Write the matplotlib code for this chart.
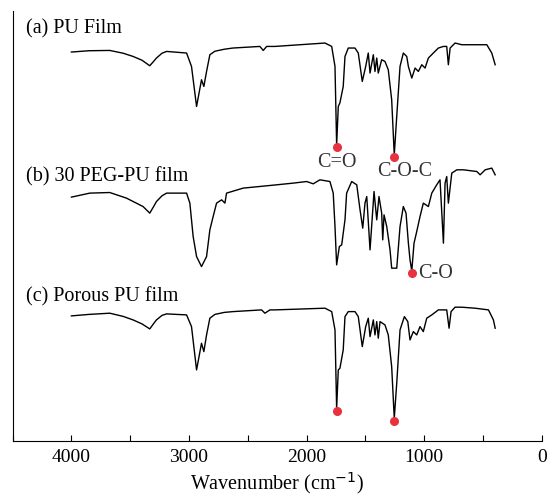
import numpy as np
import matplotlib
matplotlib.use("Agg")
import matplotlib.pyplot as plt
from matplotlib.ticker import MultipleLocator

plt.rcParams['font.family'] = ['Liberation Serif', 'DejaVu Serif']

# wavenumber (cm-1) and offset intensity (arb. units)
wn_a = [4000, 3850, 3674, 3560, 3476, 3400, 3334, 3300, 3277, 3230, 3191, 3021, 2979, 2936, 2894, 2874, 2851, 2823,
        2780, 2700, 2627, 2398, 2369, 2340, 2270, 1844, 1787, 1759, 1745, 1731, 1717, 1689, 1674,
        1646, 1589, 1561, 1527, 1498, 1476, 1461, 1433, 1419, 1404, 1391, 1362, 1334,
        1306, 1277, 1255, 1234, 1206, 1178, 1149, 1135, 1106, 1078, 1050, 1021, 993,
        965, 923, 880, 837, 809, 795, 780, 738, 681, 568, 468, 426, 397]
pu_film = [388.7, 390, 390.3, 387.5, 384.3, 380.5, 375, 379.5, 382.7, 387.5, 389.3, 387.7, 374.3, 334.3, 361, 354.3, 369.3, 386,
           389.5, 391.5, 392.7, 394.3, 390.3, 394.3, 394.3, 397.7, 394.3, 374.3, 296, 334.3, 338, 354.3, 384.3,
           392.7, 392.7, 387.7, 359.3, 374.3, 387.7, 367.7, 386, 369.3, 382.7, 367.7, 381, 379.3,
           371, 341, 286, 324.3, 374.3, 387.7, 384.3, 374.3, 362.7, 372.7, 369.3, 376, 372.7,
           382.7, 387.7, 392.7, 394.3, 394.3, 376, 392.7, 397.7, 396, 396, 396, 387.7, 376]

wn_b = [4000, 3844, 3674, 3532, 3391, 3334, 3300, 3277, 3230, 3191, 3021, 2993, 2965, 2936, 2894,
        2851, 2823, 2795, 2766, 2723, 2695, 2681, 2540, 2255, 2114, 2000, 1944, 1887,
        1802, 1774, 1759, 1745, 1722, 1702, 1674, 1660, 1617, 1574, 1546, 1523, 1504,
        1489, 1461, 1427, 1404, 1385, 1362, 1353, 1342, 1319, 1291, 1277, 1234, 1206,
        1178, 1155, 1135, 1121, 1106, 1087, 1064, 1036, 1008, 965, 936, 894, 866, 837,
        823, 809, 795, 766, 723, 667, 553, 525, 482, 426, 397]
peg_pu = [243.7, 247.7, 248.3, 242.7, 234.3, 227.7, 234.5, 239.3, 245, 247.7, 247.7, 237.7, 204.3, 184.3, 174.3,
          184.3, 211, 224.3, 237.7, 241, 237.7, 247.7, 252.7, 256, 257.7, 259.3, 257, 261,
          259.3, 247.7, 214.3, 176, 194.3, 196, 221, 247.7, 259.3, 256, 231, 212.7, 237.7,
          244.3, 191, 249.3, 221, 244.3, 227.7, 201, 226, 214.3, 191, 172.7, 172.7, 214.3,
          234.3, 227.7, 197.7, 181, 170, 197.7, 209.3, 224.3, 237.7, 234.3, 247.7, 256, 261, 197.7,
          257.7, 264.3, 237.7, 267.7, 271, 271, 269.3, 266, 271, 272.7, 266]

wn_c = [4000, 3850, 3674, 3560, 3476, 3400, 3334, 3300, 3277, 3230, 3191, 3021, 2979, 2936, 2894, 2874, 2851, 2823,
        2780, 2700, 2625, 2383, 2355, 2312, 2270, 1844, 1787, 1759, 1745, 1731, 1717, 1689, 1674,
        1646, 1589, 1561, 1527, 1498, 1476, 1461, 1433, 1419, 1404, 1391, 1376, 1334,
        1306, 1277, 1255, 1234, 1206, 1169, 1140, 1121, 1093, 1064, 1036, 1008, 979,
        936, 880, 809, 789, 772, 738, 681, 568, 454, 412, 397]
porous_pu = [125, 126.5, 127.7, 124.5, 121, 117, 112, 117.5, 121, 125.5, 127, 126, 114.3, 71, 97.7, 89.3, 106, 122.7,
             126.5, 128.5, 129.3, 131, 127.7, 131, 131, 132.7, 129.3, 111, 32.7, 71, 72.7, 91, 124.3,
             129.3, 129.3, 124.3, 94.3, 114.3, 122.7, 104.3, 121, 106, 119.3, 102.7, 119.3, 116,
             106, 74.3, 22.7, 57.7, 111, 124.3, 119.3, 101, 109.3, 106, 114.3, 109.3, 122.7,
             126, 131, 131, 112.7, 129.3, 133.7, 133.7, 132.7, 131, 121, 112.7]

# marked bands: (series index, wavenumber)
marks = [(0, 1745), (0, 1255), (1, 1106), (2, 1745), (2, 1255)]
names = ["(a) PU Film", "(b) 30 PEG-PU film", "(c) Porous PU film"]

series = [(wn_a, pu_film), (wn_b, peg_pu), (wn_c, porous_pu)]

fig = plt.figure(figsize=(5.49, 4.98), dpi=100)
ax = fig.add_axes([0.023, 0.1145, 0.964, 0.864])

for wn, val in series:
    ax.plot(wn, val, color='black', linewidth=1.0)

for idx, w in marks:
    wn, val = series[idx]
    y = np.interp(w, wn[::-1], val[::-1])
    ax.plot(w, y - 2.5, 'o', color='#e8323f', markersize=5.5, zorder=5)

ax.text(1745, 278.5, "C=O", ha='center', va='center', fontsize=14.5, color='#333333')
ax.text(1169, 269, "C-O-C", ha='center', va='center', fontsize=14.5, color='#333333')
ax.text(1050, 167.7, "C-O", ha='left', va='center', fontsize=14.5, color='#333333')

label_y = [411.7, 264.3, 144.3]
for name, y in zip(names, label_y):
    ax.text(4383, y, name, ha='left', va='center', fontsize=14.5)

ax.set_xlim(4500, 0)
ax.set_ylim(0, 430)
ax.set_yticks([])
ax.xaxis.set_major_locator(MultipleLocator(1000))
ax.xaxis.set_minor_locator(MultipleLocator(500))
ax.tick_params(axis='x', which='both', direction='in', length=4, width=0.8, labelsize=14, pad=6)
ax.spines['top'].set_visible(False)
ax.spines['right'].set_visible(False)
ax.set_xlabel("Wavenumber (cm$^{-1}$)", fontsize=14.5, labelpad=3)

fig.savefig("out.png", dpi=100)
